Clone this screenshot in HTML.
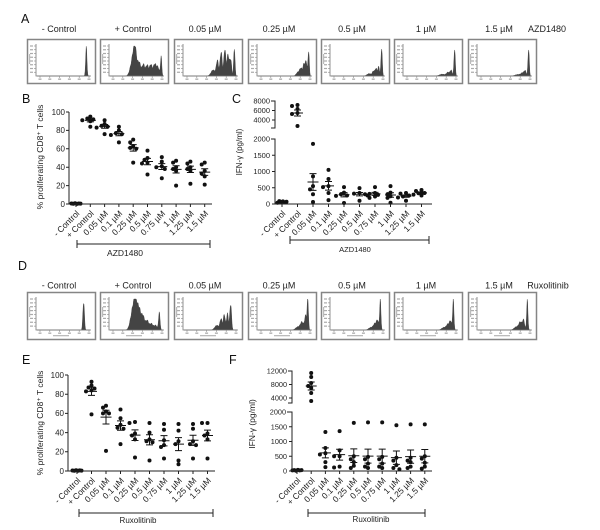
<!DOCTYPE html>
<html><head><meta charset="utf-8">
<style>
html,body{margin:0;padding:0;background:#fff;}
svg{display:block;font-family:"Liberation Sans",Arial,sans-serif;}
</style></head><body>
<svg id="s" width="600" height="530" viewBox="0 0 600 530" xmlns="http://www.w3.org/2000/svg">
<rect width="600" height="530" fill="#fff"/>
<g id="hist"></g>
<g id="dots"></g>

<!-- panel letters -->
<g font-size="12.5" fill="#111">
<text x="21" y="23">A</text>
<text x="22" y="103">B</text>
<text x="232" y="103">C</text>
<text x="18" y="270">D</text>
<text x="22" y="364">E</text>
<text x="229" y="364">F</text>
</g>

<!-- histogram titles -->
<g font-size="9" fill="#222" text-anchor="middle">
<text x="59" y="32">- Control</text>
<text x="133" y="32">+ Control</text>
<text x="205" y="32">0.05 µM</text>
<text x="279" y="32">0.25 µM</text>
<text x="352" y="32">0.5 µM</text>
<text x="426" y="32">1 µM</text>
<text x="499" y="32">1.5 µM</text>
<text x="547" y="32">AZD1480</text>
<text x="59" y="288.5">- Control</text>
<text x="133" y="288.5">+ Control</text>
<text x="205" y="288.5">0.05 µM</text>
<text x="279" y="288.5">0.25 µM</text>
<text x="352" y="288.5">0.5 µM</text>
<text x="426" y="288.5">1 µM</text>
<text x="499" y="288.5">1.5 µM</text>
<text x="548" y="288.5">Ruxolitinib</text>
</g>

<!-- ===== Panel B axes ===== -->
<g stroke="#222" stroke-width="1" fill="none">
<path d="M69,112 V204 H212"/>
<path d="M66,112H69 M66,130.4H69 M66,148.8H69 M66,167.2H69 M66,185.6H69 M66,204H69"/>
<path d="M76,204v3 M90.3,204v3 M104.6,204v3 M118.9,204v3 M133.2,204v3 M147.5,204v3 M161.8,204v3 M176.1,204v3 M190.4,204v3 M204.7,204v3"/>
<path d="M77,244H210 M77,240v8 M210,240v8"/>
</g>
<g font-size="8" fill="#222" text-anchor="end">
<text x="65" y="114.8">100</text>
<text x="65" y="133.2">80</text>
<text x="65" y="151.6">60</text>
<text x="65" y="170">40</text>
<text x="65" y="188.4">20</text>
<text x="65" y="206.8">0</text>
</g>
<text transform="translate(43,157) rotate(-90)" font-size="8.5" fill="#222" text-anchor="middle">% proliferating CD8⁺ T cells</text>
<g font-size="8.5" fill="#222" text-anchor="end">
<text transform="translate(80,214) rotate(-45)">- Control</text>
<text transform="translate(94.3,214) rotate(-45)">+ Control</text>
<text transform="translate(108.6,214) rotate(-45)">0.05 µM</text>
<text transform="translate(122.9,214) rotate(-45)">0.1 µM</text>
<text transform="translate(137.2,214) rotate(-45)">0.25 µM</text>
<text transform="translate(151.5,214) rotate(-45)">0.5 µM</text>
<text transform="translate(165.8,214) rotate(-45)">0.75 µM</text>
<text transform="translate(180.1,214) rotate(-45)">1 µM</text>
<text transform="translate(194.4,214) rotate(-45)">1.25 µM</text>
<text transform="translate(208.7,214) rotate(-45)">1.5 µM</text>
</g>
<text x="125" y="256" font-size="8.5" fill="#222" text-anchor="middle">AZD1480</text>

<!-- ===== Panel C axes ===== -->
<g stroke="#222" stroke-width="1" fill="none">
<path d="M271,101H275 V128 H271"/>
<path d="M272,110.5H275 M272,120H275"/>
<path d="M271,139H275 V204 H432"/>
<path d="M272,155.25H275 M272,171.5H275 M272,187.75H275 M272,204H275"/>
<path d="M282,204v3 M297.5,204v3 M313,204v3 M328.5,204v3 M344,204v3 M359.5,204v3 M375,204v3 M390.5,204v3 M406,204v3 M421.5,204v3"/>
<path d="M290,240H429 M290,236v8 M429,236v8"/>
</g>
<g font-size="7.5" fill="#222" text-anchor="end">
<text x="270" y="103.7">8000</text>
<text x="270" y="113.2">6000</text>
<text x="270" y="122.7">4000</text>
<text x="270" y="141.7">2000</text>
<text x="270" y="158">1500</text>
<text x="270" y="174.2">1000</text>
<text x="270" y="190.5">500</text>
<text x="270" y="206.7">0</text>
</g>
<text transform="translate(242,152) rotate(-90)" font-size="8" fill="#222" text-anchor="middle">IFN-γ (pg/ml)</text>
<g font-size="8.5" fill="#222" text-anchor="end">
<text transform="translate(286,214) rotate(-45)">- Control</text>
<text transform="translate(301.5,214) rotate(-45)">+ Control</text>
<text transform="translate(317,214) rotate(-45)">0.05 µM</text>
<text transform="translate(332.5,214) rotate(-45)">0.1 µM</text>
<text transform="translate(348,214) rotate(-45)">0.25 µM</text>
<text transform="translate(363.5,214) rotate(-45)">0.5 µM</text>
<text transform="translate(379,214) rotate(-45)">0.75 µM</text>
<text transform="translate(394.5,214) rotate(-45)">1 µM</text>
<text transform="translate(410,214) rotate(-45)">1.25 µM</text>
<text transform="translate(425.5,214) rotate(-45)">1.5 µM</text>
</g>
<text x="355" y="252" font-size="7.5" fill="#222" text-anchor="middle">AZD1480</text>

<!-- ===== Panel E axes ===== -->
<g stroke="#222" stroke-width="1" fill="none">
<path d="M68,375 V471 H215"/>
<path d="M65,375H68 M65,394.2H68 M65,413.4H68 M65,432.6H68 M65,451.8H68 M65,471H68"/>
<path d="M77,471v3 M91.5,471v3 M106,471v3 M120.5,471v3 M135,471v3 M149.5,471v3 M164,471v3 M178.5,471v3 M193,471v3 M207.5,471v3"/>
<path d="M79,513H213 M79,509v8 M213,509v8"/>
</g>
<g font-size="8" fill="#222" text-anchor="end">
<text x="64" y="377.8">100</text>
<text x="64" y="397">80</text>
<text x="64" y="416.2">60</text>
<text x="64" y="435.4">40</text>
<text x="64" y="454.6">20</text>
<text x="64" y="473.8">0</text>
</g>
<text transform="translate(43,423) rotate(-90)" font-size="8.5" fill="#222" text-anchor="middle">% proliferating CD8⁺ T cells</text>
<g font-size="8.5" fill="#222" text-anchor="end">
<text transform="translate(81,481) rotate(-45)">- Control</text>
<text transform="translate(95.5,481) rotate(-45)">+ Control</text>
<text transform="translate(110,481) rotate(-45)">0.05 µM</text>
<text transform="translate(124.5,481) rotate(-45)">0.1 µM</text>
<text transform="translate(139,481) rotate(-45)">0.25 µM</text>
<text transform="translate(153.5,481) rotate(-45)">0.5 µM</text>
<text transform="translate(168,481) rotate(-45)">0.75 µM</text>
<text transform="translate(182.5,481) rotate(-45)">1 µM</text>
<text transform="translate(197,481) rotate(-45)">1.25 µM</text>
<text transform="translate(211.5,481) rotate(-45)">1.5 µM</text>
</g>
<text x="138" y="523" font-size="8" fill="#222" text-anchor="middle">Ruxolitinib</text>

<!-- ===== Panel F axes ===== -->
<g stroke="#222" stroke-width="1" fill="none">
<path d="M288,371H292 V403 H288"/>
<path d="M289,384.5H292 M289,398H292"/>
<path d="M287,412H292 V471 H432"/>
<path d="M289,426.75H292 M289,441.5H292 M289,456.25H292 M289,471H292"/>
<path d="M297,471v3 M311.2,471v3 M325.4,471v3 M339.6,471v3 M353.8,471v3 M368,471v3 M382.2,471v3 M396.4,471v3 M410.6,471v3 M424.8,471v3"/>
<path d="M308,513H425 M308,509v8 M425,509v8"/>
</g>
<g font-size="7.3" fill="#222" text-anchor="end">
<text x="287" y="373.6">12000</text>
<text x="287" y="387.1">8000</text>
<text x="287" y="400.6">4000</text>
<text x="286" y="414.6">2000</text>
<text x="287" y="429.4">1500</text>
<text x="287" y="444.1">1000</text>
<text x="287" y="458.9">500</text>
<text x="287" y="473.6">0</text>
</g>
<text transform="translate(255,424) rotate(-90)" font-size="8.5" fill="#222" text-anchor="middle">IFN-γ (pg/ml)</text>
<g font-size="8.5" fill="#222" text-anchor="end">
<text transform="translate(301,481) rotate(-45)">- Control</text>
<text transform="translate(315.2,481) rotate(-45)">+ Control</text>
<text transform="translate(329.4,481) rotate(-45)">0.05 µM</text>
<text transform="translate(343.6,481) rotate(-45)">0.1 µM</text>
<text transform="translate(357.8,481) rotate(-45)">0.25 µM</text>
<text transform="translate(372,481) rotate(-45)">0.5 µM</text>
<text transform="translate(386.2,481) rotate(-45)">0.75 µM</text>
<text transform="translate(400.4,481) rotate(-45)">1 µM</text>
<text transform="translate(414.6,481) rotate(-45)">1.25 µM</text>
<text transform="translate(428.8,481) rotate(-45)">1.5 µM</text>
</g>
<text x="371" y="522" font-size="8" fill="#222" text-anchor="middle">Ruxolitinib</text>
</svg>

<script>
(function(){
var NS="http://www.w3.org/2000/svg";
function el(tag,attrs,parent){var e=document.createElementNS(NS,tag);for(var k in attrs)e.setAttribute(k,attrs[k]);parent.appendChild(e);return e;}
var H=document.getElementById("hist"), D=document.getElementById("dots");

function hist(bx,by,w,h,peaks,rowD){
  el("rect",{x:bx+0.5,y:by+0.5,width:w,height:h,fill:"#fff",stroke:"#858585","stroke-width":1.5},H);
  var ax=bx+9, base=by+h-(rowD?9:7), top=by+5, right=bx+w-4;
  var x0=ax+1,x1=right-1,ptop=top+2;
  var N=140,d="M"+x0+","+base;
  for(var i=0;i<=N;i++){
    var t=i/N,v=0;
    for(var j=0;j<peaks.length;j++){var p=peaks[j];v+=p[2]*Math.exp(-0.5*Math.pow((t-p[0])/p[1],2));}
    v*= (1+0.07*Math.sin(t*170));
    if(v>1)v=1;
    d+="L"+(x0+t*(x1-x0)).toFixed(2)+","+(base-v*(base-ptop)).toFixed(2);
  }
  d+="L"+x1+","+base+"Z";
  el("path",{d:d,fill:"#444",stroke:"#333","stroke-width":0.4},H);
  el("path",{d:"M"+ax+","+top+"V"+base+"H"+right,stroke:"#777","stroke-width":0.8,fill:"none"},H);
  for(var k=0;k<8;k++){var yy=top+2+k*(base-top-2)/8;el("path",{d:"M"+(ax-2)+","+yy+"H"+ax,stroke:"#888","stroke-width":0.6},H);
    el("rect",{x:ax-6,y:yy-0.6,width:3,height:1.2,fill:"#aaa"},H);}
  el("rect",{x:ax-7,y:top+10,width:1.2,height:10,fill:"#bbb"},H);
  for(var k=0;k<6;k++){var xx=ax+4+k*(right-ax-6)/5;el("path",{d:"M"+xx+","+base+"v2",stroke:"#888","stroke-width":0.6},H);
    el("rect",{x:xx-1.5,y:base+2.5,width:3,height:1.3,fill:"#aaa"},H);}
  if(rowD) el("rect",{x:bx+w/2-8,y:base+5,width:16,height:1.3,fill:"#bbb"},H);
}
var xsA=[27,100,174,248,321,394,468], W=68;
var A=[
 [[0.93,0.012,0.95]],
 [[0.47,0.03,0.85],[0.42,0.04,0.45],[0.55,0.03,0.45],[0.63,0.025,0.38],[0.7,0.025,0.36],[0.77,0.025,0.38],[0.84,0.025,0.36],[0.9,0.03,0.3],[0.965,0.012,0.62]],
 [[0.55,0.04,0.2],[0.63,0.02,0.5],[0.7,0.02,0.8],[0.77,0.018,0.9],[0.83,0.02,0.7],[0.88,0.018,0.55],[0.95,0.012,0.95]],
 [[0.75,0.03,0.12],[0.81,0.025,0.25],[0.87,0.02,0.4],[0.91,0.015,0.45],[0.955,0.012,0.85]],
 [[0.72,0.04,0.08],[0.8,0.02,0.15],[0.85,0.02,0.25],[0.9,0.015,0.3],[0.955,0.012,0.95]],
 [[0.72,0.05,0.06],[0.83,0.03,0.12],[0.89,0.02,0.18],[0.955,0.012,0.92]],
 [[0.75,0.05,0.05],[0.84,0.03,0.1],[0.89,0.02,0.16],[0.955,0.012,0.92]]
];
var Dh=[
 [[0.88,0.014,0.92]],
 [[0.48,0.035,0.9],[0.42,0.04,0.5],[0.55,0.03,0.6],[0.62,0.03,0.45],[0.7,0.03,0.3],[0.78,0.03,0.2],[0.86,0.03,0.15],[0.93,0.014,0.55]],
 [[0.62,0.04,0.15],[0.7,0.02,0.35],[0.76,0.018,0.5],[0.82,0.018,0.52],[0.88,0.016,0.85]],
 [[0.75,0.04,0.1],[0.83,0.03,0.25],[0.9,0.02,0.45],[0.94,0.012,0.95]],
 [[0.75,0.04,0.08],[0.83,0.03,0.2],[0.88,0.02,0.28],[0.93,0.012,0.95]],
 [[0.75,0.04,0.08],[0.83,0.03,0.18],[0.88,0.02,0.26],[0.93,0.012,0.95]],
 [[0.72,0.04,0.1],[0.8,0.03,0.25],[0.86,0.02,0.3],[0.93,0.012,0.95]]
];
for(var i=0;i<7;i++){hist(xsA[i],39,W,44,A[i],false);hist(xsA[i],292,W,47,Dh[i],true);}

var R=2.0;
function group(cx,ys,mean,lo,hi,zero){
  var placed=[];
  if(zero){
    var offs=[-4.5,-2.7,-0.9,0.9,2.7,4.5];
    for(var i=0;i<ys.length;i++) el("circle",{cx:cx+offs[i%6],cy:ys[i],r:R,fill:"#111"},D);
  } else {
    var s=ys.slice().sort(function(a,b){return a-b;});
    var tries=[0,-3,3,-5.5,5.5,-8,8];
    for(var i=0;i<s.length;i++){
      for(var t=0;t<tries.length;t++){
        var x=cx+tries[t],ok=true;
        for(var j=0;j<placed.length;j++){var dx=placed[j][0]-x,dy=placed[j][1]-s[i];if(dx*dx+dy*dy<11){ok=false;break;}}
        if(ok)break;
      }
      placed.push([x,s[i]]);
      el("circle",{cx:x,cy:s[i],r:R,fill:"#111"},D);
    }
  }
  if(mean!=null){
    el("path",{d:"M"+(cx-5.5)+","+mean+"H"+(cx+5.5)+"M"+cx+","+lo+"V"+hi+"M"+(cx-3.5)+","+lo+"H"+(cx+3.5)+"M"+(cx-3.5)+","+hi+"H"+(cx+3.5),stroke:"#111","stroke-width":1,fill:"none"},D);
  }
}
function stats(v){var n=v.length,m=0;for(var i=0;i<n;i++)m+=v[i];m/=n;var s=0;for(var i=0;i<n;i++)s+=(v[i]-m)*(v[i]-m);var sem=Math.sqrt(s/(n-1))/Math.sqrt(n);return [m,sem];}
function lin(cx,vals,f,zero){
  var st=stats(vals);var ys=vals.map(f);
  group(cx,ys,f(st[0]),f(st[0]+st[1]),f(st[0]-st[1]),zero);
}
var fB=function(v){return 204-v*0.92;};
var xB=[76,90.3,104.6,118.9,133.2,147.5,161.8,176.1,190.4,204.7];
var dB=[[0.5,0.3,0.8,0.2,0.6,0.4],[95,93,92,91,90,84],[91,87,85,84,83,76],[84,80,77,76,75,67],[70,67,63,61,60,45],[58,50,48,45,44,32],[51,46,41,40,38,28],[47,45,40,38,36,20],[46,44,40,38,36,22],[45,43,36,33,30,21]];
for(var i=0;i<10;i++) lin(xB[i],dB[i],fB,i==0);
var fE=function(v){return 471-v*0.96;};
var xE=[77,91.5,106,120.5,135,149.5,164,178.5,193,207.5];
var dE=[[0.5,0.3,0.8,0.2,0.6,0.4],[93,89,87,86,84,83,59],[68,66,62,60,60,21],[64,55,48,45,44,28],[51,50,39,37,33,14],[50,40,33,31,30,11],[49,43,32,27,25,13],[49,42,31,28,11,7],[44,49,31,28,27,13],[50,50,39,37,33,13]];
for(var i=0;i<10;i++) lin(xE[i],dE[i],fE,i==0);
var fC=function(v){return 204-v*0.0325;};
var xC=[282,297.5,313,328.5,344,359.5,375,390.5,406,421.5];
lin(xC[0],[40,90,60,80,50,70],fC,true);
group(xC[1],[105,106,109,113,114,126],113,110,116,false);
var dC=[null,null,[1850,850,550,450,300,60],[1050,770,550,520,340,120],[520,350,300,260,250,30],[490,340,320,300,260,100],[520,340,310,280,230,190],[550,350,300,240,190,40],[340,320,260,230,200,100],[430,400,340,330,290,260]];
for(var i=2;i<10;i++) lin(xC[i],dC[i],fC,false);
var fF=function(v){return 471-v*0.0295;};
var xF=[297,311.2,325.4,339.6,353.8,368,382.2,396.4,410.6,424.8];
lin(xF[0],[20,30,10,40,20,30],fF,true);
group(xF[1],[373,377,383,386,388,393,401],386,382,390,false);
var dF=[null,null,[1320,780,600,560,300,130],[1350,700,500,500,150,120],[1630,500,400,300,180,100],[1650,480,400,250,150,100],[1650,480,400,250,150,100],[1550,450,350,200,100,60],[1580,450,350,300,150,100],[1580,500,420,280,150,80]];
for(var i=2;i<10;i++) lin(xF[i],dF[i],fF,false);
})();
</script>
</body></html>
